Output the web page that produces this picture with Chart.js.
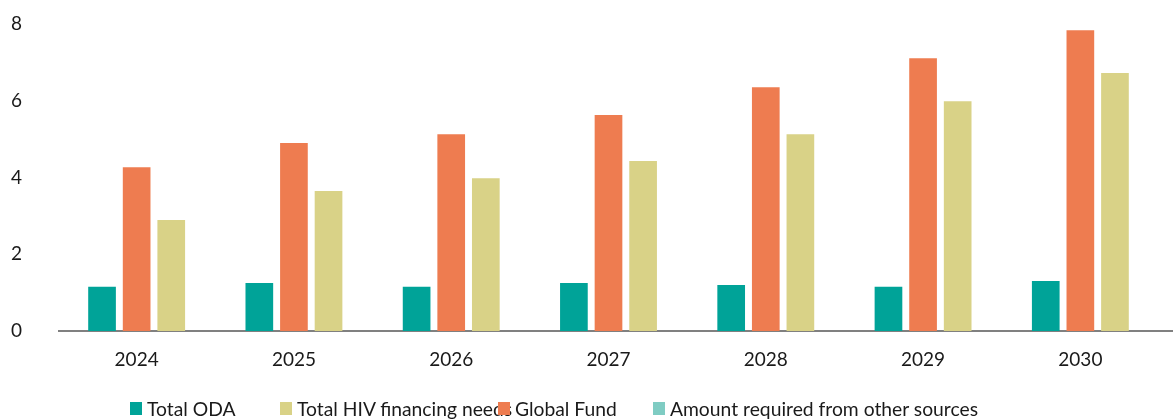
<!DOCTYPE html>
<html>
<head>
<meta charset="utf-8">
<script src="https://cdn.jsdelivr.net/npm/chart.js"></script>
<style>
  body { margin: 0; background: #fff; }
  #wrap { position: relative; width: 1173px; height: 419px; }
  #legend { position: absolute; left: 0; top: 398px; width: 1173px; height: 21px; font-family: Lato, sans-serif; font-size: 19.3px; color: #1a1a1a; }
  #legend .item { position: absolute; top: 0; white-space: nowrap; line-height: 21px; }
  #legend .box { position: absolute; left: 0; top: 4px; width: 12px; height: 13px; }
  #legend .txt { position: absolute; left: 17px; top: 0; }
</style>
</head>
<body>
<div id="wrap">
  <canvas id="chart" width="1173" height="419"></canvas>
  <div id="legend"></div>
</div>
<script>
// data
var years = ["2024", "2025", "2026", "2027", "2028", "2029", "2030"];
var totalOda = [1.15, 1.25, 1.15, 1.25, 1.2, 1.15, 1.3];
var hivNeeds = [2.89, 3.65, 3.98, 4.43, 5.13, 5.99, 6.72];
var globalFund = [4.27, 4.9, 5.13, 5.63, 6.35, 7.11, 7.84];
var otherSources = [null, null, null, null, null, null, null];
var yTicks = [0, 2, 4, 6, 8];

// legend item left edges (layout only)
var legendLeft = [130, 280, 498, 653];

// grey zero line, runs on to the right edge of the canvas
var baseLine = {
  id: "baseLine",
  beforeDatasetsDraw: function(chart){
    var y = chart.scales.y.getPixelForValue(0);
    var ctx = chart.ctx;
    ctx.save();
    ctx.strokeStyle = "#808080";
    ctx.lineWidth = 2;
    ctx.beginPath();
    ctx.moveTo(chart.chartArea.left, y);
    ctx.lineTo(chart.width, y);
    ctx.stroke();
    ctx.restore();
  }
};

Chart.defaults.font.family = "Lato, sans-serif";
Chart.defaults.color = "#1a1a1a";

var chart = new Chart(document.getElementById("chart"), {
  type: "bar",
  data: {
    labels: years,
    datasets: [{
        label: "Total ODA",
        data: totalOda,
        backgroundColor: "#00a398",
        order: 1
      }, {
        label: "Total HIV financing needs",
        data: hivNeeds,
        backgroundColor: "#d9d287",
        order: 3
      }, {
        label: "Global Fund",
        data: globalFund,
        backgroundColor: "#ee7c50",
        order: 2
      }, {
        label: "Amount required from other sources",
        data: otherSources,
        backgroundColor: "#7fccc3",
        grouped: false,
        order: 4
      }
    ]
  },
  options: {
    responsive: false,
    animation: false,
    categoryPercentage: 0.66,
    barPercentage: 0.8,
    layout: { padding: { top: 24, right: 14, left: 0, bottom: 0 } },
    plugins: {
      legend: { display: false },
      tooltip: { enabled: false }
    },
    scales: {
      x: {
        grid: { display: false, drawTicks: false },
        border: { display: false },
        ticks: { font: { size: 19 }, padding: 17, maxRotation: 0 },
        afterFit: function(scale){ scale.height = 88; }
      },
      y: {
        min: yTicks[0],
        max: yTicks[yTicks.length - 1],
        grid: { display: false, drawTicks: false },
        border: { display: false },
        ticks: { stepSize: yTicks[1] - yTicks[0], font: { size: 19 }, padding: 36 },
        afterFit: function(scale){ scale.width = 58; scale.paddingTop = 0; scale.paddingBottom = 0; }
      }
    }
  },
  plugins: [baseLine]
});

// html legend, built from the datasets
var leg = document.getElementById("legend");
chart.data.datasets.forEach(function(ds, i){
  var item = document.createElement("div");
  item.className = "item";
  item.style.left = legendLeft[i] + "px";
  var box = document.createElement("span");
  box.className = "box";
  box.style.background = ds.backgroundColor;
  var txt = document.createElement("span");
  txt.className = "txt";
  txt.textContent = ds.label;
  item.appendChild(txt);
  item.appendChild(box);
  leg.appendChild(item);
});
</script>
</body>
</html>
